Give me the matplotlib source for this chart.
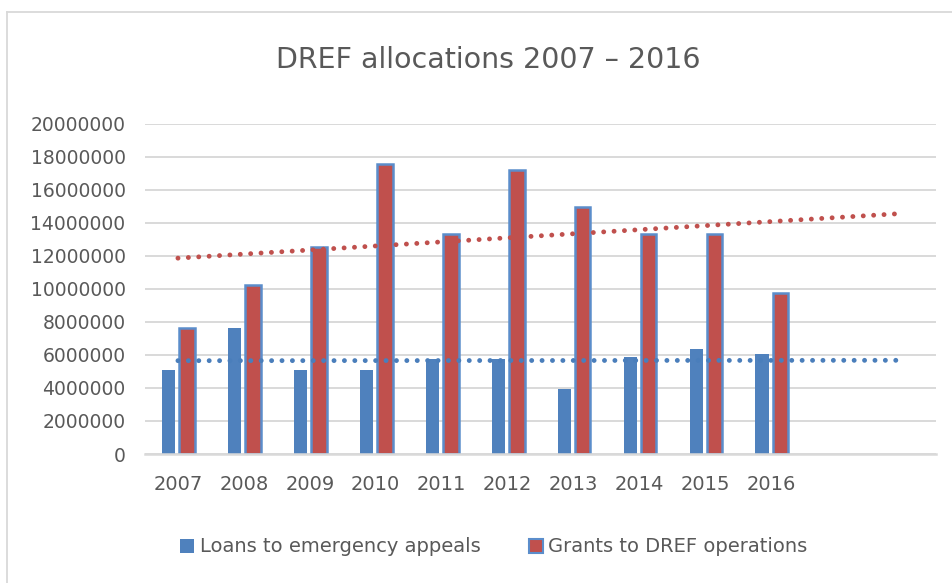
import numpy as np
import matplotlib
matplotlib.use("Agg")
import matplotlib.pyplot as plt
from matplotlib.patches import Patch
from matplotlib.lines import Line2D

years = ["2007", "2008", "2009", "2010", "2011", "2012", "2013", "2014", "2015", "2016"]
loans = [5080000, 7650000, 5080000, 5080000, 5730000, 5730000, 3930000, 5870000, 6380000, 6050000]
grants = [7610000, 10230000, 12510000, 17530000, 13300000, 17190000, 14930000, 13300000, 13300000, 9730000]
yticks = [0, 2000000, 4000000, 6000000, 8000000, 10000000, 12000000, 14000000, 16000000, 18000000, 20000000]
forecast_periods = 2

title = "DREF allocations 2007 – 2016"
label_loans = "Loans to emergency appeals"
label_grants = "Grants to DREF operations"

BLUE = "#4f81bd"
BLUE_EDGE = "#5b8dcb"
RED = "#c0504d"
GRID = "#d9d9d9"
TXT = "#595959"

plt.rcParams['font.family'] = ['DejaVu Sans']

fig = plt.figure(figsize=(9.53, 5.83), dpi=100)
W, H = 953, 583
ax = fig.add_axes([145 / W, (H - 454) / H, (936 - 145) / W, (454 - 123.6) / H])

x = np.arange(len(years))
ax.bar(x - 0.14, loans, width=0.198, color=BLUE, edgecolor="none", zorder=2)
ax.bar(x + 0.14, grants, width=0.235, color=RED, edgecolor=BLUE_EDGE, linewidth=1.8, zorder=2)

# linear trendlines (forecast forward)
xt = np.linspace(0, len(years) - 1 + forecast_periods, 100)
for vals, col in [(grants, RED), (loans, "#4a7ebb")]:
    k, b = np.polyfit(x, vals, 1)
    ax.plot(xt, k * xt + b, color=col, lw=3.5, linestyle=(0, (0.01, 2.13)),
            dash_capstyle="round", zorder=3)

ax.set_xlim(-0.5, len(years) - 1 + forecast_periods + 0.5)
ax.set_ylim(0, 20000000)
ax.set_yticks(yticks)
ax.set_yticklabels([str(v) for v in yticks])
ax.set_xticks(x)
ax.set_xticklabels(years)
ax.tick_params(axis="y", length=0, pad=14, labelsize=13.5, labelcolor=TXT)
ax.tick_params(axis="x", length=0, pad=15, labelsize=14, labelcolor=TXT)
for s in ["top", "right", "left"]:
    ax.spines[s].set_visible(False)
ax.spines["bottom"].set_color(GRID)
ax.spines["bottom"].set_linewidth(1.8)
ax.yaxis.grid(True, color=GRID, linewidth=1.4, zorder=0)
ax.set_axisbelow(True)

fig.text(488 / W, (H - 60) / H, title, ha="center", va="center", fontsize=20.5, color=TXT)

handles = [Patch(facecolor=BLUE, edgecolor="none"),
           Patch(facecolor=RED, edgecolor=BLUE_EDGE, linewidth=1.5)]
fig.legend(handles, [label_loans, label_grants], loc="center", bbox_to_anchor=(494 / W, (H - 547) / H),
           ncol=2, frameon=False, fontsize=14, labelcolor=TXT, handlelength=0.7, handleheight=0.7,
           handletextpad=0.3, columnspacing=2.5)

# chart border
fig.add_artist(Line2D([7 / W, 7 / W], [0, (H - 12) / H], color=GRID, lw=1.3, transform=fig.transFigure))
fig.add_artist(Line2D([7 / W, 1], [(H - 12) / H, (H - 12) / H], color=GRID, lw=1.3, transform=fig.transFigure))

fig.savefig("out.png", dpi=100)
